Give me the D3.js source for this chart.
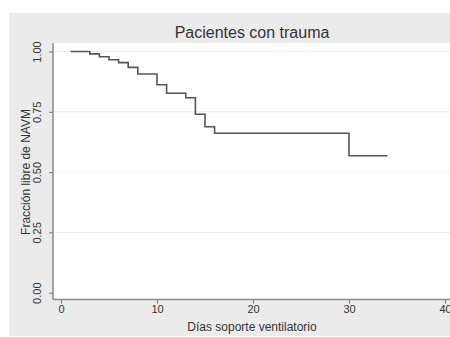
<!DOCTYPE html>
<html>
<head>
<meta charset="utf-8">
<script src="https://cdn.jsdelivr.net/npm/d3@7"></script>
<style>
  body { margin: 0; background: #fff; }
  svg { display: block; font-family: "Liberation Sans", Arial, sans-serif; }
</style>
</head>
<body>
<svg id="chart" width="450" height="337"></svg>
<script>
// Kaplan-Meier: fraccion libre de NAVM
var days    = [1, 3, 4, 5, 6, 7, 8, 10, 11, 13, 14, 15, 16, 30];
var surv    = [1, 0.99, 0.978, 0.966, 0.954, 0.934, 0.907, 0.862, 0.827, 0.808, 0.74, 0.688, 0.661, 0.568];
var lastDay = 34;
var xTicks  = [0, 10, 20, 30, 40];
var yTicks  = [0, 0.25, 0.5, 0.75, 1];

var svg = d3.select("#chart");

// outer gray panel
svg.append("rect")
   .attr("x", 9).attr("y", 13)
   .attr("width", 441).attr("height", 323)
   .attr("fill", "#ebebeb");

// white plot region
var plotLeft = 53, plotTop = 43, plotRight = 450, plotBottom = 299.5;
svg.append("rect")
   .attr("x", plotLeft).attr("y", plotTop)
   .attr("width", plotRight - plotLeft).attr("height", plotBottom - plotTop)
   .attr("fill", "#fff");

var x = d3.scaleLinear().domain([0, 40]).range([61, 445]);
var y = d3.scaleLinear().domain([0, 1]).range([292.7, 51.5]);

// gridlines
svg.append("g").selectAll("line")
   .data(yTicks.filter(function (d) { return d > 0; }))
   .join("line")
   .attr("x1", plotLeft).attr("x2", plotRight)
   .attr("y1", function (d) { return y(d); })
   .attr("y2", function (d) { return y(d); })
   .attr("stroke", "#ececec")
   .attr("stroke-width", 1);

// axes
var xAxis = svg.append("g")
   .attr("transform", "translate(0," + plotBottom + ")")
   .call(d3.axisBottom(x).tickValues(xTicks).tickSize(4).tickPadding(2).tickFormat(d3.format("d")));
xAxis.select(".domain").attr("d", "M" + plotLeft + ",0H" + plotRight);

var yAxis = svg.append("g")
   .attr("transform", "translate(" + plotLeft + ",0)")
   .call(d3.axisLeft(y).tickValues(yTicks).tickSize(4).tickFormat(d3.format(".2f")));
yAxis.select(".domain").attr("d", "M0," + plotTop + "V" + plotBottom);

svg.selectAll(".domain").attr("stroke", "#8a8a8a").attr("stroke-width", 1.5);
svg.selectAll(".tick line").attr("stroke", "#777");
xAxis.selectAll("text").attr("font-size", 11).attr("fill", "#333");
yAxis.selectAll("text")
   .attr("font-size", 11).attr("fill", "#333")
   .attr("transform", "rotate(-90)")
   .attr("text-anchor", "middle")
   .attr("x", 0).attr("y", -12).attr("dy", "0");

// survival step line
var pts = days.map(function (d, i) { return [d, surv[i]]; });
pts.push([lastDay, surv[surv.length - 1]]);
var line = d3.line()
   .x(function (d) { return x(d[0]); })
   .y(function (d) { return y(d[1]); })
   .curve(d3.curveStepAfter);
svg.append("path")
   .attr("d", line(pts))
   .attr("fill", "none")
   .attr("stroke", "#555")
   .attr("stroke-width", 1.6);

// titles
svg.append("text")
   .attr("x", 252).attr("y", 38)
   .attr("text-anchor", "middle")
   .attr("font-size", 16)
   .attr("fill", "#333")
   .text("Pacientes con trauma");

svg.append("text")
   .attr("x", 252).attr("y", 331)
   .attr("text-anchor", "middle")
   .attr("font-size", 12)
   .attr("fill", "#333")
   .text("Días soporte ventilatorio");

svg.append("text")
   .attr("transform", "translate(30,172) rotate(-90)")
   .attr("text-anchor", "middle")
   .attr("font-size", 12)
   .attr("fill", "#333")
   .text("Fracción libre de NAVM");
</script>
</body>
</html>
